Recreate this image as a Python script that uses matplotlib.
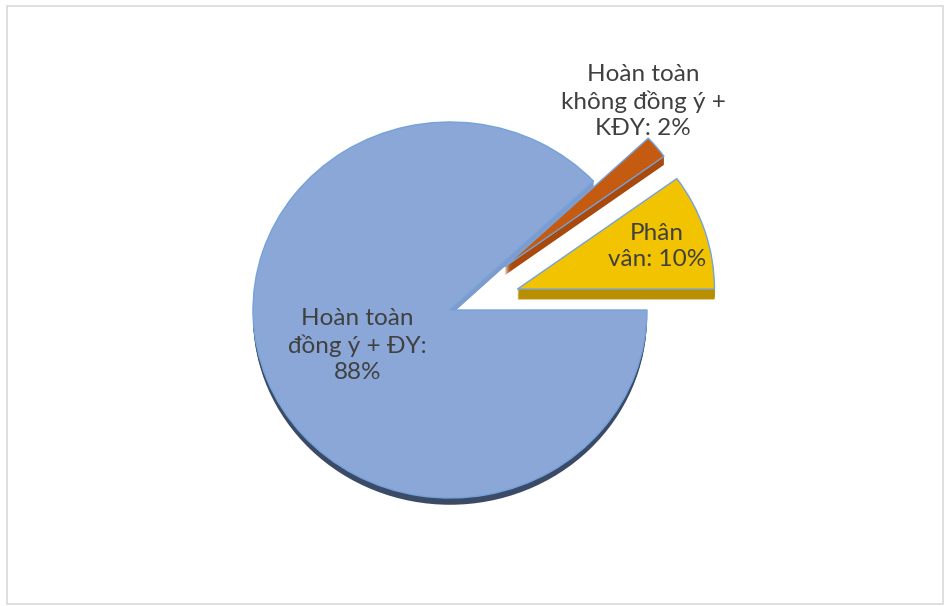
import matplotlib.pyplot as plt
from matplotlib.patches import Rectangle, Wedge

labels = ['Phân\nvân: 10%', 'Hoàn toàn\nkhông đồng ý +\nKĐY: 2%', 'Hoàn toàn\nđồng ý + ĐY:\n88%']
values = [10, 2, 88]
explode = [0.36, 0.36, 0.0]
top_colors = ['#F2C300', '#C55A11', '#8BA7D8']
side_colors = ['#B88F00', '#A9490C', '#7F9BCD']
depths = [0.055, 0.045, 0.03]
label_pos = [(1.05, 0.34), (0.98, 1.11), (-0.47, -0.19)]

W, H = 944, 606
CX, CY = 450, 310        # pie centre in pixels (from top-left)
SX, SY = 197, 188        # pixels per unit radius


def main():
    fig = plt.figure(figsize=(W / 100, H / 100), dpi=100)
    ax = fig.add_axes([0, 0, 1, 1])

    # side faces: stack shifted copies to fake the 3D thickness
    steps = 12
    for k in range(steps, 0, -1):
        for i in range(len(values)):
            off = depths[i] * k / steps
            cols = ['none'] * len(values)
            cols[i] = side_colors[i]
            ax.pie(values, explode=explode, colors=cols, startangle=0,
                   center=(0, -off), wedgeprops=dict(linewidth=0))

    # dark rim along the bottom of the big slice
    ax.add_patch(Wedge((0, -0.036), 1.0, 180, 360, width=0.2, facecolor='#3B4A66', linewidth=0))

    # top faces
    ax.pie(values, explode=explode, colors=top_colors, startangle=0,
           wedgeprops=dict(linewidth=1.0, edgecolor='#74A3DA'))

    for text, (x, y) in zip(labels, label_pos):
        ax.text(x, y, text, ha='center', va='center', fontsize=17.5, color='#404040',
                family=['Lato', 'DejaVu Sans'], linespacing=1.3)

    ax.set_aspect('auto')
    ax.set_xlim(-CX / SX, (W - CX) / SX)
    ax.set_ylim(-(H - CY) / SY, CY / SY)
    ax.axis('off')

    fig.patches.append(Rectangle((7 / W, 2 / H), 936 / W, 598 / H, transform=fig.transFigure,
                                 fill=False, edgecolor='#D9D9D9', linewidth=1.2))

    fig.savefig('out.png', dpi=100, facecolor='white')


if __name__ == "__main__":
    main()
